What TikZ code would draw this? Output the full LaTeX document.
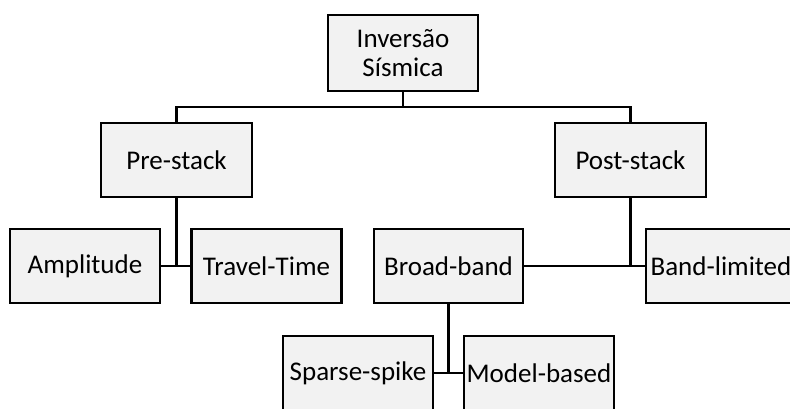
\documentclass[tikz,border=0pt]{standalone}
\usepackage{fontspec}
\setmainfont{Carlito}
\definecolor{boxfill}{RGB}{242,242,242}
\begin{document}
\begin{tikzpicture}[x=1pt,y=-1pt,
  box/.style={draw=black, line width=2.8pt, fill=boxfill, inner sep=0pt,
    minimum width=150pt, minimum height=74pt, align=center,
    font=\fontsize{27}{29}\selectfont},
  wire/.style={draw=black, line width=2.8pt}]
  \useasboundingbox (0,0) rectangle (790,408);
  \clip (0,0) rectangle (790,408);
  % root
  \node[box, minimum height=76pt] (inv) at (403,53) {Inversão\\Sísmica};
  % second level
  \node[box, minimum width=151pt] (pre)  at (176.5,160) {Pre-stack};
  \node[box, minimum width=151pt] (post) at (630.5,160) {Post-stack};
  % third level
  \node[box] (amp) at (85,266)    {Amplitude};
  \node[box] (tt)  at (266.5,266) {Travel-Time};
  \node[box, minimum width=149pt] (bb)  at (448.5,266) {Broad-band};
  \node[box] (bl)  at (721,266)   {Band-limited};
  % fourth level
  \node[box] (ss) at (358,373) {Sparse-spike};
  \node[box] (mb) at (539,373) {Model-based};
  % connectors
  \coordinate (bus) at (403,107);
  \draw[wire] (inv.south) -- (bus);
  \draw[wire] (pre.north) |- (bus) -| (post.north);
  \draw[wire] (pre.south) -- (pre.south |- amp.east);
  \draw[wire] (amp.east) -- (tt.west);
  \draw[wire] (post.south) -- (post.south |- bl.west);
  \draw[wire] (bb.east) -- (bl.west);
  \draw[wire] (bb.south) -- (bb.south |- ss.east);
  \draw[wire] (ss.east) -- (mb.west);
\end{tikzpicture}
\end{document}
